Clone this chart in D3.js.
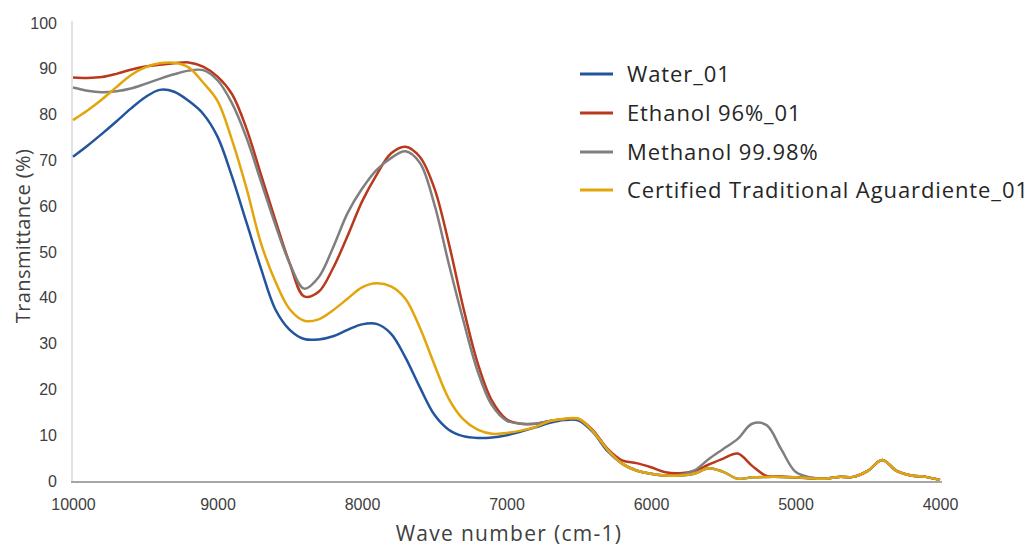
<!DOCTYPE html>
<html>
<head>
<meta charset="utf-8">
<script src="https://cdn.jsdelivr.net/npm/d3@7/dist/d3.min.js"></script>
<style>
  html, body { margin: 0; padding: 0; background: #fff; }
  svg { display: block; }
</style>
</head>
<body>
<svg id="chart" width="1032" height="549"></svg>
<script>
// Wave numbers (cm-1) shared by every spectrum
const waveNumbers = d3.range(10000, 3999, -100);

// Transmittance (%) for each sample, one value per wave number
const water = [
  70.8, 73.2, 75.8, 78.5, 81.3, 83.8, 85.4, 85.0, 83.0, 80.2,
  75.2, 66.5, 56.5, 46.5, 37.5, 33.0, 31.0, 30.9, 31.6, 33.0,
  34.2, 34.3, 32.2, 27.0, 20.5, 14.5, 11.2, 9.8, 9.4, 9.5,
  10.0, 10.8, 11.7, 12.7, 13.3, 13.2, 10.6, 6.5, 3.8, 2.3,
  1.6, 1.2, 1.2, 1.6, 2.8, 2.0, 0.5, 0.8, 0.9, 0.9,
  0.8, 0.6, 0.5, 0.9, 0.9, 2.2, 4.6, 2.2, 1.2, 0.9, 0.2
];
const ethanol = [
  88.1, 88.0, 88.2, 88.9, 89.8, 90.5, 90.9, 91.2, 91.4, 90.5,
  88.3, 84.5, 77.0, 67.0, 57.0, 47.5, 40.3, 41.3, 46.5, 53.5,
  61.0, 66.8, 71.5, 73.0, 70.8, 64.0, 52.0, 38.0, 25.8, 17.5,
  13.5, 12.5, 12.5, 13.1, 13.5, 13.5, 11.0, 7.0, 4.5, 3.9,
  3.0, 1.9, 1.7, 2.2, 3.6, 4.9, 6.0, 3.3, 1.1, 1.0,
  0.8, 0.6, 0.5, 0.9, 0.9, 2.2, 4.6, 2.2, 1.2, 0.9, 0.2
];
const methanol = [
  85.9, 85.2, 84.9, 85.1, 85.7, 86.7, 87.8, 88.8, 89.6, 89.7,
  87.5, 82.5, 75.0, 65.5, 56.0, 47.5, 42.0, 44.5, 51.0, 58.5,
  63.8, 67.9, 70.5, 72.0, 69.5, 60.5, 47.5, 35.2, 24.0, 16.5,
  13.2, 12.5, 12.5, 13.1, 13.5, 13.5, 10.8, 6.8, 3.8, 2.3,
  1.6, 1.2, 1.3, 2.3, 4.8, 7.0, 9.2, 12.5, 12.2, 7.0,
  2.0, 0.8, 0.5, 0.9, 0.9, 2.2, 4.6, 2.2, 1.2, 0.9, 0.2
];
const aguardiente = [
  78.8, 80.9, 83.3, 86.0, 88.6, 90.3, 91.2, 91.3, 90.3, 87.0,
  83.0, 74.5, 64.0, 52.0, 43.6, 37.5, 35.0, 35.3, 37.3, 39.8,
  42.3, 43.2, 42.5, 39.8, 33.5, 25.5, 18.0, 13.5, 11.2, 10.3,
  10.5, 11.0, 11.8, 13.1, 13.6, 13.6, 10.8, 6.8, 3.8, 2.3,
  1.6, 1.2, 1.2, 1.6, 2.8, 2.0, 0.5, 0.8, 0.9, 0.9,
  0.8, 0.6, 0.5, 0.9, 0.9, 2.2, 4.6, 2.2, 1.2, 0.9, 0.2
];

const seriesNames = ["Water_01", "Ethanol 96%_01", "Methanol 99.98%", "Certified Traditional Aguardiente_01"];
const seriesColors = ["#23549e", "#b8391c", "#7f7f7f", "#e2a50c"];
const seriesValues = [water, ethanol, methanol, aguardiente];

const xTicks = [10000, 9000, 8000, 7000, 6000, 5000, 4000];
const yTicks = [0, 10, 20, 30, 40, 50, 60, 70, 80, 90, 100];

const svg = d3.select("#chart");
const plot = { left: 73, right: 940, top: 23, bottom: 481 };

const x = d3.scaleLinear().domain([10000, 4000]).range([plot.left, plot.right]);
const y = d3.scaleLinear().domain([0, 100]).range([plot.bottom, plot.top]);

// Vertical axis line
svg.append("line")
  .attr("x1", plot.left - 1).attr("x2", plot.left - 1)
  .attr("y1", plot.top - 2).attr("y2", plot.bottom)
  .attr("stroke", "#d9d9d9").attr("stroke-width", 1.5);

// Tick labels drawn through d3 axes, with their tick marks hidden
const tickFont = "'Liberation Sans Narrow', 'Arial Narrow', 'Liberation Sans', sans-serif";
const xAxis = svg.append("g")
  .attr("transform", `translate(0,${plot.bottom})`)
  .call(d3.axisBottom(x).tickValues(xTicks).tickSize(0).tickPadding(18).tickFormat(d3.format("d")));
xAxis.select(".domain").remove();
xAxis.selectAll("text")
  .attr("fill", "#404040").style("font-family", tickFont).style("font-size", "16px");

const yAxis = svg.append("g")
  .attr("transform", `translate(${plot.left},0)`)
  .call(d3.axisLeft(y).tickValues(yTicks).tickSize(0).tickPadding(16).tickFormat(d3.format("d")));
yAxis.select(".domain").remove();
yAxis.selectAll("text")
  .attr("fill", "#404040").style("font-family", tickFont).style("font-size", "16px");

// Spectra
const line = d3.line()
  .x((d, i) => x(waveNumbers[i]))
  .y(d => y(d))
  .curve(d3.curveCatmullRom.alpha(0.5));

svg.append("g").selectAll("path")
  .data(seriesValues)
  .join("path")
  .attr("d", line)
  .attr("fill", "none")
  .attr("stroke", (d, i) => seriesColors[i])
  .attr("stroke-width", 2.5)
  .attr("stroke-linejoin", "round");

// Horizontal axis line, drawn over the traces near zero
svg.append("line")
  .attr("x1", plot.left - 2).attr("x2", plot.right + 2)
  .attr("y1", plot.bottom + 1).attr("y2", plot.bottom + 1)
  .attr("stroke", "#a6a6a6").attr("stroke-width", 2);

// Axis titles
const titleFont = "'Open Sans', 'Noto Sans', sans-serif";
svg.append("text")
  .attr("x", 509).attr("y", 541)
  .attr("text-anchor", "middle")
  .attr("fill", "#404040")
  .style("font-family", titleFont).style("font-size", "21px")
  .style("letter-spacing", "1.3px")
  .text("Wave number (cm-1)");

svg.append("text")
  .attr("transform", "translate(30,236) rotate(-90)")
  .attr("text-anchor", "middle")
  .attr("fill", "#404040")
  .style("font-family", titleFont).style("font-size", "20px")
  .style("letter-spacing", "0.4px")
  .text("Transmittance (%)");

// Legend
const legendRows = [74, 113, 152, 190];
const legend = svg.append("g");
seriesNames.forEach((name, i) => {
  legend.append("line")
    .attr("x1", 580).attr("x2", 613)
    .attr("y1", legendRows[i]).attr("y2", legendRows[i])
    .attr("stroke", seriesColors[i]).attr("stroke-width", 3);
  legend.append("text")
    .attr("x", 627).attr("y", legendRows[i])
    .attr("dy", "0.35em")
    .attr("fill", "#262626")
    .style("font-family", titleFont).style("font-size", "22px")
    .style("letter-spacing", "0.9px")
    .text(name);
});
</script>
</body>
</html>
